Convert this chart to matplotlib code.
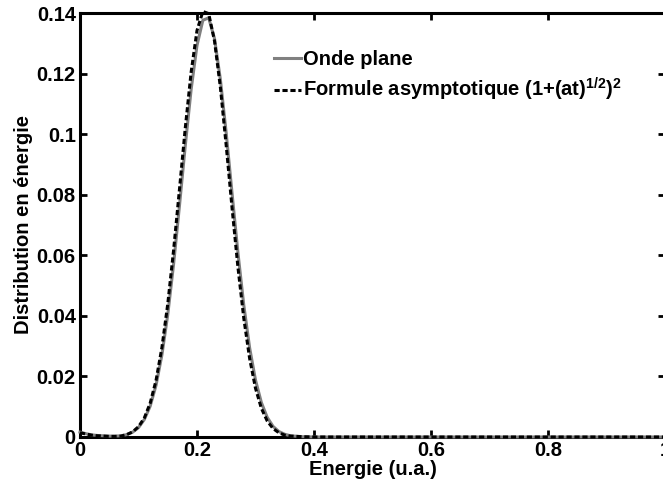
import matplotlib
matplotlib.use('Agg')
import matplotlib.pyplot as plt

plt.rcParams['font.family'] = ['Liberation Sans', 'DejaVu Sans']
plt.rcParams['font.weight'] = 'bold'
plt.rcParams['mathtext.fontset'] = 'custom'
plt.rcParams['mathtext.rm'] = 'Liberation Sans:bold'
plt.rcParams['mathtext.default'] = 'rm'

# energy grid (u.a.)
energie = [0, 0.01, 0.02, 0.03, 0.04, 0.05, 0.06, 0.07, 0.08, 0.09,
           0.10, 0.11, 0.12, 0.13, 0.14, 0.15, 0.16, 0.17, 0.18, 0.19,
           0.20, 0.21, 0.22, 0.23, 0.24, 0.25, 0.26, 0.27, 0.28, 0.29,
           0.30, 0.31, 0.32, 0.33, 0.34, 0.35, 0.36, 0.38, 0.40,
           0.50, 0.60, 0.70, 0.80, 0.90, 1.00]

onde_plane = [0.0016, 0.0011, 0.0007, 0.0005, 0.0004, 0.0003, 0.0003, 0.0004, 0.0008, 0.0016,
              0.0031, 0.0058, 0.0102, 0.0171, 0.0271, 0.0404, 0.0571, 0.0763, 0.0963, 0.1148,
              0.1293, 0.1376, 0.1384, 0.1315, 0.1180, 0.1002, 0.0803, 0.0608, 0.0435, 0.0294,
              0.0188, 0.0114, 0.0065, 0.0035, 0.0018, 0.0009, 0.0004, 0.0001, 0,
              0, 0, 0, 0, 0, 0]

asymptotique = [0.0014, 0.0010, 0.0006, 0.0004, 0.0003, 0.0002, 0.0002, 0.0003, 0.0008, 0.0017,
                0.0034, 0.0063, 0.0112, 0.0187, 0.0295, 0.0439, 0.0617, 0.0817, 0.1021, 0.1205,
                0.1342, 0.1405, 0.1398, 0.1307, 0.1154, 0.0961, 0.0755, 0.0560, 0.0392, 0.0259,
                0.0161, 0.0095, 0.0053, 0.0028, 0.0014, 0.0006, 0.0003, 0.0001, 0,
                0, 0, 0, 0, 0, 0]

xticks = [0, 0.2, 0.4, 0.6, 0.8, 1]
xticklabels = ['0', '0.2', '0.4', '0.6', '0.8', '1']
yticks = [0, 0.02, 0.04, 0.06, 0.08, 0.1, 0.12, 0.14]
yticklabels = ['0', '0.02', '0.04', '0.06', '0.08', '0.1', '0.12', '0.14']

fig = plt.figure(figsize=(6.63, 4.84), dpi=100)
ax = fig.add_axes([80 / 663, 47 / 484, 585 / 663, 424 / 484])

ax.plot(energie, onde_plane, color='#808080', lw=2.2, zorder=3, clip_on=False,
        label='Onde plane')
ax.plot(energie, asymptotique, color='black', lw=2.2, ls=(0, (1.7, 0.9)), zorder=4,
        clip_on=False, label='Formule asymptotique (1+(at)$^{1/2}$)$^2$')

ax.set_xlim(0, 1)
ax.set_ylim(0, 0.14)
ax.set_xticks(xticks)
ax.set_xticklabels(xticklabels)
ax.set_yticks(yticks)
ax.set_yticklabels(yticklabels)
ax.tick_params(direction='in', length=5, width=2, labelsize=14.5,
               top=True, right=True, pad=3)
ax.tick_params(axis='x', pad=3)
for s in ax.spines.values():
    s.set_linewidth(2.2)
    s.set_zorder(2)

ax.set_xlabel('Energie (u.a.)', fontsize=14.5, fontweight='bold', labelpad=0)
ax.set_ylabel('Distribution en énergie', fontsize=14.5, fontweight='bold', labelpad=3)

ax.legend(loc='upper left', bbox_to_anchor=(0.332, 0.913), frameon=False,
          fontsize=14.5, handlelength=1.35, handletextpad=0.1, labelspacing=0.35,
          borderaxespad=0, borderpad=0)

fig.savefig('out.png', dpi=100)
